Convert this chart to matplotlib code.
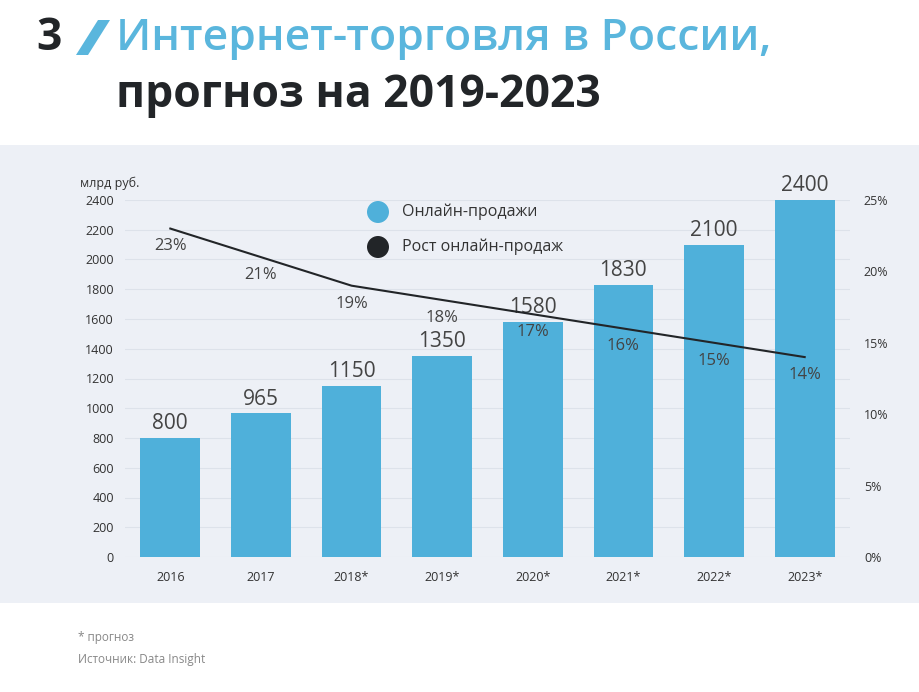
import matplotlib
matplotlib.use("Agg")
import matplotlib.pyplot as plt
from matplotlib.patches import Rectangle, Polygon, Ellipse

years = ["2016", "2017", "2018*", "2019*", "2020*", "2021*", "2022*", "2023*"]
sales = [800, 965, 1150, 1350, 1580, 1830, 2100, 2400]
growth = [23, 21, 19, 18, 17, 16, 15, 14]

BLUE = "#4fb0da"
TBLUE = "#5ab6dd"
DARK = "#222528"
plt.rcParams["font.family"] = "Open Sans"

fig = plt.figure(figsize=(9.2, 6.92), dpi=100)
fig.patch.set_facecolor("white")
fig.add_artist(Rectangle((0, 1 - 603/692), 1, (603-145)/692, transform=fig.transFigure,
                         facecolor="#edf0f6", edgecolor="none", zorder=-10))

# title
fig.text(36/920, 1 - 38/692, "3", fontsize=32, fontweight="bold", color=DARK, va="center")
fig.add_artist(Polygon([(76/920, 1-55/692), (88/920, 1-55/692), (110/920, 1-20/692), (98/920, 1-20/692)],
                       closed=True, transform=fig.transFigure, facecolor=TBLUE, edgecolor="none"))
fig.text(116/920, 1 - 38/692, "Интернет-торговля в России,", fontsize=32, fontweight="semibold",
         color=TBLUE, va="center")
fig.text(116/920, 1 - 95/692, "прогноз на 2019-2023", fontsize=32, fontweight="bold",
         color=DARK, va="center")

ax = fig.add_axes([125/920, 1 - 557/692, 725/920, 357/692])
ax.set_facecolor("none")
x = range(len(years))
ax.bar(x, sales, width=0.66, color=BLUE, zorder=2)
for xi, v in zip(x, sales):
    ax.text(xi, v + 25, str(v), ha="center", va="bottom", fontsize=15, color="#444444")
ax.set_xlim(-0.5, 7.5)
ax.set_ylim(0, 2400)
ax.set_yticks(range(0, 2401, 200))
ax.set_xticks(list(x))
ax.set_xticklabels(years)
ax.grid(axis="y", color="#dde2ea", linewidth=0.8, zorder=0)
ax.set_axisbelow(True)
for s in ax.spines.values():
    s.set_visible(False)
ax.tick_params(length=0, labelsize=9, colors="#333333")
ax.tick_params(axis="x", pad=10)
ax.tick_params(axis="y", pad=8)

ax2 = ax.twinx()
ax2.set_ylim(0, 25)
ax2.set_yticks(range(0, 26, 5))
ax2.set_yticklabels([f"{v}%" for v in range(0, 26, 5)])
ax2.tick_params(length=0, labelsize=9, colors="#333333", pad=10)
for s in ax2.spines.values():
    s.set_visible(False)
ax2.plot(list(x), growth, color=DARK, linewidth=1.5, zorder=3)
for xi, g in zip(x, growth):
    ax2.text(xi, g - 1.25, f"{g}%", ha="center", va="center", fontsize=12, color="#444444")

fig.text(80/920, 1 - 183/692, "млрд руб.", fontsize=9, color="#333333", va="center")

# legend
fig.add_artist(Ellipse((378/920, 1 - 212/692), 22/920, 22/692, transform=fig.transFigure,
                       facecolor=BLUE, edgecolor="none"))
fig.text(402/920, 1 - 212/692, "Онлайн-продажи", fontsize=11.5, color="#333333", va="center")
fig.add_artist(Ellipse((378/920, 1 - 247/692), 22/920, 22/692, transform=fig.transFigure,
                       facecolor=DARK, edgecolor="none"))
fig.text(402/920, 1 - 247/692, "Рост онлайн-продаж", fontsize=11.5, color="#333333", va="center")

fig.text(78/920, 1 - 638/692, "* прогноз", fontsize=8.5, color="#888888", va="center")
fig.text(78/920, 1 - 659/692, "Источник: Data Insight", fontsize=8.5, color="#888888", va="center")

fig.savefig("out.png", dpi=100)
